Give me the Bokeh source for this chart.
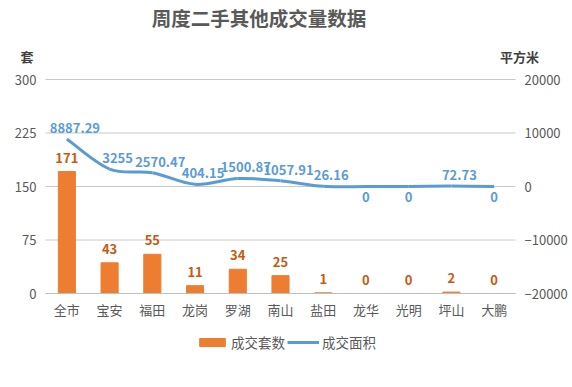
from bokeh.plotting import figure
from bokeh.models import (Range1d, LinearAxis, Legend, LegendItem, Label,
                          ColumnDataSource, FixedTicker, LabelSet)
from bokeh.core.properties import value
from bokeh.embed import file_html
from bokeh.resources import INLINE

# ---- data ----
categories = ["全市", "宝安", "福田", "龙岗", "罗湖", "南山", "盐田", "龙华", "光明", "坪山", "大鹏"]
units = [171, 43, 55, 11, 34, 25, 1, 0, 0, 2, 0]
area = [8887.29, 3255, 2570.47, 404.15, 1500.87, 1057.91, 26.16, 0, 0, 72.73, 0]
left_ticks = [0, 75, 150, 225, 300]
right_ticks = [-20000, -10000, 0, 10000, 20000]
title_text = "周度二手其他成交量数据"
left_unit = "套"
right_unit = "平方米"
series_names = ["成交套数", "成交面积"]

FONT = "Noto Sans CJK SC"
GRAY = "#595959"
ORANGE = "#ED7D31"
DARK_ORANGE = "#C55A11"
BLUE = "#5B9BD5"
GRID = "#C8C8C8"

# ---- layout geometry (pixels inside the figure) ----
W, H = 572, 387
PL, PR, PT, PB = 45, 515, 79, 293     # plot area edges (px, from top-left)

n = len(categories)
xs = list(range(n))

# ranges are extended so that the visible plot area sits where the reference has it,
# while the frame covers the whole figure (so outside texts are not clipped)
xlo, xhi = -0.5, n - 0.5
xpx = (PR - PL) / (xhi - xlo)
x_start = xlo - PL / xpx
x_end = xhi + (W - PR) / xpx

def ext(lo, hi):
    upx = (hi - lo) / (PB - PT)
    return lo - (H - PB) * upx, hi + PT * upx

y_start, y_end = ext(left_ticks[0], left_ticks[-1])
r_start, r_end = ext(right_ticks[0], right_ticks[-1])

p = figure(width=W, height=H, output_backend="svg", toolbar_location=None,
           x_range=Range1d(x_start, x_end), y_range=Range1d(y_start, y_end),
           min_border=0)
p.extra_y_ranges = {"area": Range1d(r_start, r_end)}
p.outline_line_color = None
p.background_fill_color = "white"
p.border_fill_color = "white"
p.xgrid.visible = False
p.ygrid.visible = False

def sx(ix):
    return ix

def sy(iy):
    return H - iy

# axes
xa = p.xaxis[0]
xa.fixed_location = left_ticks[0]
xa.bounds = (xlo, xhi)
xa.ticker = FixedTicker(ticks=xs)
xa.major_label_overrides = {i: c for i, c in enumerate(categories)}
xa.axis_line_color = "#BFBFBF"
xa.major_tick_line_color = None
xa.major_tick_out = 0
xa.major_tick_in = 0
xa.minor_tick_line_color = None
xa.major_label_text_font = FONT
xa.major_label_text_font_size = "13px"
xa.major_label_text_color = GRAY
xa.major_label_standoff = 6

ya = p.yaxis[0]
ya.fixed_location = xlo
ya.ticker = FixedTicker(ticks=left_ticks)
ya.axis_line_color = None
ya.major_tick_line_color = None
ya.major_tick_out = 0
ya.major_tick_in = 0
ya.minor_tick_line_color = None
ya.major_label_text_font = FONT
ya.major_label_text_font_size = "13px"
ya.major_label_text_color = GRAY
ya.major_label_standoff = 9

ra = LinearAxis(y_range_name="area", ticker=FixedTicker(ticks=right_ticks), fixed_location=xhi)
ra.axis_line_color = None
ra.major_tick_line_color = None
ra.major_tick_out = 0
ra.major_tick_in = 0
ra.minor_tick_line_color = None
ra.major_label_text_font = FONT
ra.major_label_text_font_size = "13px"
ra.major_label_text_color = GRAY
ra.major_label_standoff = 9
p.add_layout(ra, "right")

# grid lines at the left-axis ticks, across the plot area only
p.segment(x0=[xlo] * len(left_ticks), x1=[xhi] * len(left_ticks), y0=left_ticks, y1=left_ticks,
          line_color=GRID, line_width=1)

# bars
src = ColumnDataSource(dict(x=xs, units=units, ulabel=[str(u) for u in units]))
bars = p.vbar(x="x", top="units", width=0.4, color=ORANGE, source=src)

# smooth line (Catmull-Rom bezier segments through the data points)
pts = list(zip(xs, area))
x0, y0, x1, y1, cx0, cy0, cx1, cy1 = [], [], [], [], [], [], [], []
for i in range(n - 1):
    pm = pts[i - 1] if i > 0 else pts[i]
    pa = pts[i]
    pb = pts[i + 1]
    pn = pts[i + 2] if i + 2 < n else pts[i + 1]
    x0.append(pa[0]); y0.append(pa[1])
    x1.append(pb[0]); y1.append(pb[1])
    cx0.append(pa[0] + (pb[0] - pm[0]) / 6); cy0.append(pa[1] + (pb[1] - pm[1]) / 6)
    cx1.append(pb[0] - (pn[0] - pa[0]) / 6); cy1.append(pb[1] - (pn[1] - pa[1]) / 6)
curve = p.bezier(x0=x0, y0=y0, x1=x1, y1=y1, cx0=cx0, cy0=cy0, cx1=cx1, cy1=cy1,
                 line_color=BLUE, line_width=3, y_range_name="area")

# data labels
p.add_layout(LabelSet(x="x", y="units", text="ulabel", source=src, y_offset=9,
                      text_align="center", text_baseline="bottom",
                      text_font=value(FONT), text_font_size="13px", text_font_style="bold",
                      text_color=DARK_ORANGE))
pos_src = ColumnDataSource(dict(x=[x for x, a in zip(xs, area) if a > 0],
                                y=[a for a in area if a > 0],
                                t=[("%g" % a) for a in area if a > 0]))
zero_src = ColumnDataSource(dict(x=[x for x, a in zip(xs, area) if a <= 0],
                                 y=[a for a in area if a <= 0],
                                 t=[("%g" % a) for a in area if a <= 0]))
p.add_layout(LabelSet(x="x", y="y", text="t", source=pos_src, y_range_name="area",
                      x_offset=8, y_offset=6,
                      text_align="center", text_baseline="bottom",
                      text_font=value(FONT), text_font_size="13px", text_font_style="bold",
                      text_color=BLUE))
p.add_layout(LabelSet(x="x", y="y", text="t", source=zero_src, y_range_name="area",
                      x_offset=0, y_offset=-5,
                      text_align="center", text_baseline="top",
                      text_font=value(FONT), text_font_size="13px", text_font_style="bold",
                      text_color=BLUE))

# title and unit labels
p.add_layout(Label(x=sx(258.5), y=sy(17), x_units="screen", y_units="screen", text=title_text,
                   text_align="center", text_baseline="middle", text_font=FONT,
                   text_font_size="19.5px", text_font_style="bold", text_color=GRAY))
p.add_layout(Label(x=sx(26.5), y=sy(56), x_units="screen", y_units="screen", text=left_unit,
                   text_align="center", text_baseline="middle", text_font=FONT,
                   text_font_size="13px", text_font_style="bold", text_color="#404040"))
p.add_layout(Label(x=sx(519), y=sy(56), x_units="screen", y_units="screen", text=right_unit,
                   text_align="center", text_baseline="middle", text_font=FONT,
                   text_font_size="13px", text_font_style="bold", text_color="#404040"))

legend = Legend(items=[LegendItem(label=series_names[0], renderers=[bars]),
                       LegendItem(label=series_names[1], renderers=[curve])],
                orientation="horizontal", location=(sx(196), sy(352)),
                border_line_color=None, background_fill_alpha=0,
                glyph_width=32, glyph_height=10, label_standoff=3, spacing=2,
                label_text_font=FONT, label_text_font_size="13.5px", label_text_color=GRAY,
                margin=0, padding=4)
p.add_layout(legend, "center")

open("out.html", "w").write(file_html(p, INLINE))
